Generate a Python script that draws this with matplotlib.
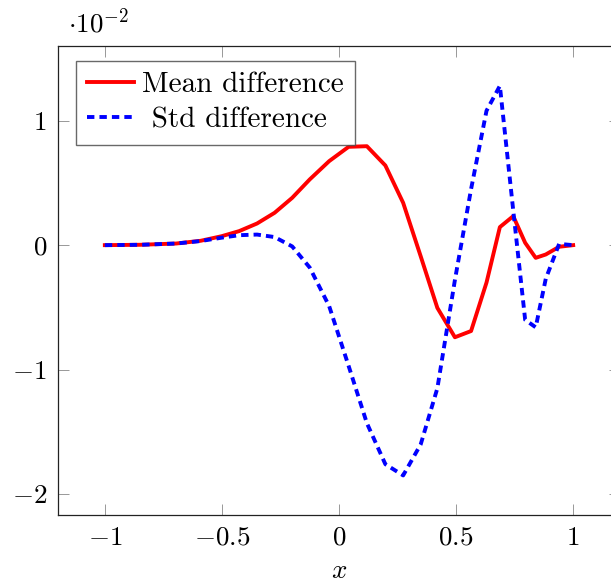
import matplotlib
matplotlib.use("Agg")
import matplotlib.pyplot as plt

# ======================
# DATA (y values in units of 1e-2)
# ======================
x_vals = [-1.0, -0.847, -0.696, -0.591, -0.501, -0.426, -0.35, -0.275, -0.2,
          -0.125, -0.042, 0.041, 0.119, 0.198, 0.274, 0.349, 0.42, 0.495,
          0.564, 0.63, 0.687, 0.744, 0.795, 0.84, 0.883, 0.94, 1.0]

mean_diff = [0.0, 0.003, 0.013, 0.035, 0.072, 0.113, 0.174, 0.26, 0.38,
             0.528, 0.675, 0.79, 0.795, 0.64, 0.34, -0.09, -0.504, -0.74,
             -0.69, -0.30, 0.145, 0.233, 0.019, -0.102, -0.075, -0.013, 0.0]

std_diff = [0.0, 0.003, 0.013, 0.033, 0.06, 0.08, 0.085, 0.065, -0.01,
            -0.18, -0.49, -0.97, -1.43, -1.76, -1.85, -1.60, -1.15, -0.28,
            0.45, 1.08, 1.28, 0.28, -0.60, -0.66, -0.27, 0.01, 0.0]

x_ticks = [-1, -0.5, 0, 0.5, 1]
x_ticklabels = ["$-1$", "$-0.5$", "$0$", "$0.5$", "$1$"]
y_ticks = [-2, -1, 0, 1]
y_ticklabels = ["$-2$", "$-1$", "$0$", "$1$"]

# ======================
# STYLE
# ======================
plt.rcParams["font.family"] = "serif"
plt.rcParams["font.serif"] = ["cmr10", "DejaVu Serif"]
plt.rcParams["mathtext.fontset"] = "cm"
plt.rcParams["axes.unicode_minus"] = False
FS = 19.5
LEG_FS = 21

fig = plt.figure(figsize=(6.11, 5.83), dpi=100)
ax = fig.add_axes([58 / 611, 68 / 583, 562 / 611, 469 / 583])

ax.plot(x_vals, mean_diff, color="#ff0000", lw=2.8, label="Mean difference")
ax.plot(x_vals, std_diff, color="#0000ff", lw=2.8, linestyle=(0, (1.9, 1.3)),
        label=" Std difference")

ax.set_xlim(-1.2, 1.2)
ax.set_ylim(-2.168, 1.6)

ax.set_xticks(x_ticks)
ax.set_xticklabels(x_ticklabels)
ax.set_yticks(y_ticks)
ax.set_yticklabels(y_ticklabels)
ax.tick_params(direction="in", length=8, width=0.6, color="#888888",
               top=True, right=True, labelsize=FS, pad=8)
for sp in ax.spines.values():
    sp.set_linewidth(0.9)
    sp.set_color("#222222")

ax.set_xlabel("$x$", fontsize=FS, labelpad=7)

fig.text(68 / 611, 1 - 22 / 583, r"$\cdot 10^{-2}$", fontsize=FS,
         ha="left", va="center")

leg = ax.legend(loc="upper left", fontsize=LEG_FS, frameon=True, fancybox=False,
                handlelength=1.6, handletextpad=0.3, borderpad=0.38,
                labelspacing=0.3, borderaxespad=0.0,
                bbox_to_anchor=(18 / 562, 1 - 15 / 469))
leg.get_frame().set_edgecolor("#444444")
leg.get_frame().set_linewidth(1.0)

fig.savefig("out.png", dpi=100)
